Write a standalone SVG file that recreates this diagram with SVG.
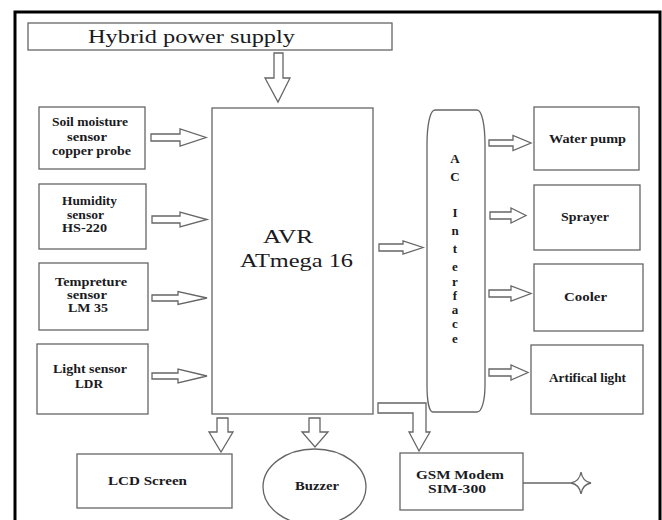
<svg xmlns="http://www.w3.org/2000/svg" width="662" height="520" viewBox="0 0 662 520">
<style>
.box{fill:#fff;stroke:#666;stroke-width:1.3}
.arr{fill:#fff;stroke:#666;stroke-width:1.3;stroke-linejoin:miter}
text{font-family:'Liberation Serif','Times New Roman','DejaVu Serif',serif;fill:#1a1a22;text-anchor:middle}
.s{font-size:11.5px;font-weight:bold}
.b{font-size:19px}
.ac{font-size:13px;font-weight:bold}
</style>
<rect x="0" y="0" width="662" height="520" fill="#fff"/>
<rect x="15" y="12" width="645" height="515" fill="none" stroke="#000" stroke-width="3"/>

<g id="power">
<rect class="box" x="28" y="23" width="364" height="27"/>
<text class="b" x="191.5" y="43" textLength="207" lengthAdjust="spacingAndGlyphs">Hybrid power supply</text>
</g>

<g id="soil">
<rect class="box" x="39" y="107" width="106" height="62"/>
<text class="s" x="90" y="126" textLength="76" lengthAdjust="spacingAndGlyphs">Soil moisture</text>
<text class="s" x="87" y="141" textLength="40" lengthAdjust="spacingAndGlyphs">sensor</text>
<text class="s" x="91.5" y="155" textLength="79" lengthAdjust="spacingAndGlyphs">copper probe</text>
</g>

<g id="humidity">
<rect class="box" x="39" y="184" width="107" height="65"/>
<text class="s" x="89.5" y="205" textLength="55" lengthAdjust="spacingAndGlyphs">Humidity</text>
<text class="s" x="85.5" y="219" textLength="37" lengthAdjust="spacingAndGlyphs">sensor</text>
<text class="s" x="84.5" y="232" textLength="45" lengthAdjust="spacingAndGlyphs">HS-220</text>
</g>

<g id="temperature">
<rect class="box" x="39" y="263" width="109" height="67"/>
<text class="s" x="91" y="286" textLength="72" lengthAdjust="spacingAndGlyphs">Tempreture</text>
<text class="s" x="87" y="299" textLength="40" lengthAdjust="spacingAndGlyphs">sensor</text>
<text class="s" x="88" y="312" textLength="40" lengthAdjust="spacingAndGlyphs">LM 35</text>
</g>

<g id="light">
<rect class="box" x="37" y="344" width="111" height="70"/>
<text class="s" x="90" y="373" textLength="74" lengthAdjust="spacingAndGlyphs">Light sensor</text>
<text class="s" x="89" y="388" textLength="28" lengthAdjust="spacingAndGlyphs">LDR</text>
</g>

<g id="avr">
<rect class="box" x="212" y="108" width="161" height="306"/>
<text class="b" x="288" y="243" textLength="50" lengthAdjust="spacingAndGlyphs">AVR</text>
<text class="b" x="296.5" y="267" textLength="113" lengthAdjust="spacingAndGlyphs">ATmega 16</text>
</g>

<g id="ac-interface">
<path class="box" d="M435,110 H477 C482,110 485,125 485,145 V385 C485,400 482,412 477,412 H433 C429,412 427,400 427,385 V145 C427,125 430,110 435,110 Z"/>
<text class="ac" x="455" y="163">A</text>
<text class="ac" x="455" y="181">C</text>
<text class="ac" x="455" y="217">I</text>
<text class="ac" x="455" y="235">n</text>
<text class="ac" x="455" y="253">t</text>
<text class="ac" x="455" y="271">e</text>
<text class="ac" x="455" y="285.5">r</text>
<text class="ac" x="455" y="299.5">f</text>
<text class="ac" x="455" y="313.5">a</text>
<text class="ac" x="455" y="328">c</text>
<text class="ac" x="455" y="343">e</text>
</g>

<g id="water-pump">
<rect class="box" x="534" y="107" width="105" height="63"/>
<text class="s" x="587.5" y="143" textLength="77" lengthAdjust="spacingAndGlyphs">Water pump</text>
</g>

<g id="sprayer">
<rect class="box" x="534" y="185" width="106" height="65"/>
<text class="s" x="585" y="221" textLength="48" lengthAdjust="spacingAndGlyphs">Sprayer</text>
</g>

<g id="cooler">
<rect class="box" x="534" y="264" width="109" height="67"/>
<text class="s" x="585.5" y="301" textLength="43" lengthAdjust="spacingAndGlyphs">Cooler</text>
</g>

<g id="artificial-light">
<rect class="box" x="531" y="345" width="112" height="69"/>
<text class="s" x="587.5" y="382" textLength="77" lengthAdjust="spacingAndGlyphs">Artifical light</text>
</g>

<g id="lcd">
<rect class="box" x="77" y="454" width="155" height="54"/>
<text class="s" x="147.5" y="485" textLength="79" lengthAdjust="spacingAndGlyphs">LCD Screen</text>
</g>

<g id="buzzer">
<ellipse class="box" cx="314.5" cy="487" rx="51.5" ry="38"/>
<text class="s" x="317" y="490" textLength="44" lengthAdjust="spacingAndGlyphs">Buzzer</text>
</g>

<g id="gsm">
<rect class="box" x="400" y="453" width="123" height="57"/>
<text class="s" x="460" y="479" textLength="88" lengthAdjust="spacingAndGlyphs">GSM Modem</text>
<text class="s" x="457" y="493" textLength="58" lengthAdjust="spacingAndGlyphs">SIM-300</text>
</g>

<g id="antenna">
<path class="arr" d="M581,472 Q582.5,481.5 591,483 Q582.5,484.5 581,494 Q579.5,484.5 571,483 Q579.5,481.5 581,472 Z"/>
</g>

<g id="connectors">
<path class="arr" d="M274,53 H283 V78 H290 L278,102 L265,78 H274 Z"/>
<path class="arr" d="M151,134 H180 V129 L206,137.5 L180,146 V141 H151 Z"/>
<path class="arr" d="M152,216 H180 V212 L207,219.5 L180,227 V223 H152 Z"/>
<path class="arr" d="M152,295 H178 V291.5 L207,298 L178,304.5 V301 H152 Z"/>
<path class="arr" d="M152,373 H178 V369 L207,376 L178,383 V379 H152 Z"/>
<path class="arr" d="M379,244 H403 V241 L423,247.5 L403,254 V251 H379 Z"/>
<path class="arr" d="M489,140 H513 V135.5 L531,143 L513,150.5 V146 H489 Z"/>
<path class="arr" d="M490,212 H511 V208 L526,215.5 L511,223 V219 H490 Z"/>
<path class="arr" d="M489,290 H511 V286 L531,293.5 L511,301 V297 H489 Z"/>
<path class="arr" d="M489,369 H511 V365 L528,372.5 L511,380 V376 H489 Z"/>
<path class="arr" d="M217,418 H228 V432 H233 L221,452 L209,432 H217 Z"/>
<path class="arr" d="M309,418 H320 V432 H328 L315,447 L302,432 H309 Z"/>
<path class="arr" d="M378,403 H426 V432 H430 L419,451 L409,432 H413 V413 H378 Z"/>
<line x1="523" y1="483" x2="571" y2="483" stroke="#666" stroke-width="1.3"/>
</g>
</svg>
